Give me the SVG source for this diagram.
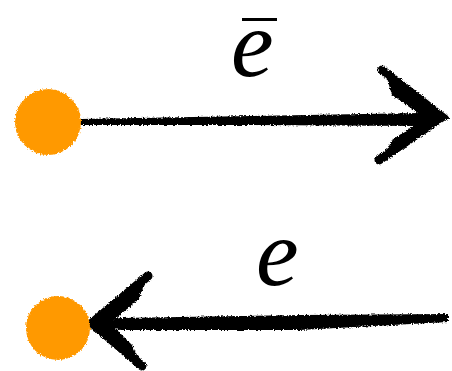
<svg xmlns="http://www.w3.org/2000/svg" width="452" height="371" viewBox="0 0 452 371">
<defs>
<filter id="rough" x="-10%" y="-30%" width="120%" height="160%">
<feTurbulence type="fractalNoise" baseFrequency="0.6" numOctaves="2" seed="3" result="n"/>
<feDisplacementMap in="SourceGraphic" in2="n" scale="4" xChannelSelector="R" yChannelSelector="G"/>
</filter>
</defs>
<style>
.dot{fill:#ff9900;}
.shaft{fill:#000;}
.head{fill:none;stroke:#000;stroke-width:9;stroke-linecap:round;stroke-linejoin:miter;}
.lbl{font-family:"Liberation Serif","DejaVu Serif",serif;font-style:italic;font-size:96px;fill:#000;}
</style>
<g id="connectors" filter="url(#rough)">
<g id="arrow-top">
<path class="shaft" d="M80,119 L250,116 L420,113 L440,116 L420,126 L250,125 L80,125 Z"/>
<path class="head" d="M382,70 L442,117 L379,160"/>
<path class="shaft" d="M385,72 L445,116 L381,162 L392,140 L425,118 L392,95 Z"/>
</g>
<g id="arrow-bottom">
<path class="shaft" d="M448,314 L300,315 L120,318 L95,323 L120,330 L300,330 L448,322 Z"/>
<path class="head" d="M148,276 L92,323 L142,366"/>
<path class="shaft" d="M150,273 L89,323 L145,371 L132,345 L110,323 L138,300 Z"/>
</g>
</g>
<g id="node-top"><circle class="dot" cx="48" cy="122" r="33" filter="url(#rough)"/></g>
<g id="node-bottom"><circle class="dot" cx="58" cy="328" r="32" filter="url(#rough)"/></g>
<g id="label-top">
<text class="lbl" x="231" y="76">e</text>
<rect x="242" y="18" width="35" height="3" fill="#000"/>
</g>
<g id="label-bottom"><text class="lbl" x="256" y="285">e</text></g>
</svg>
